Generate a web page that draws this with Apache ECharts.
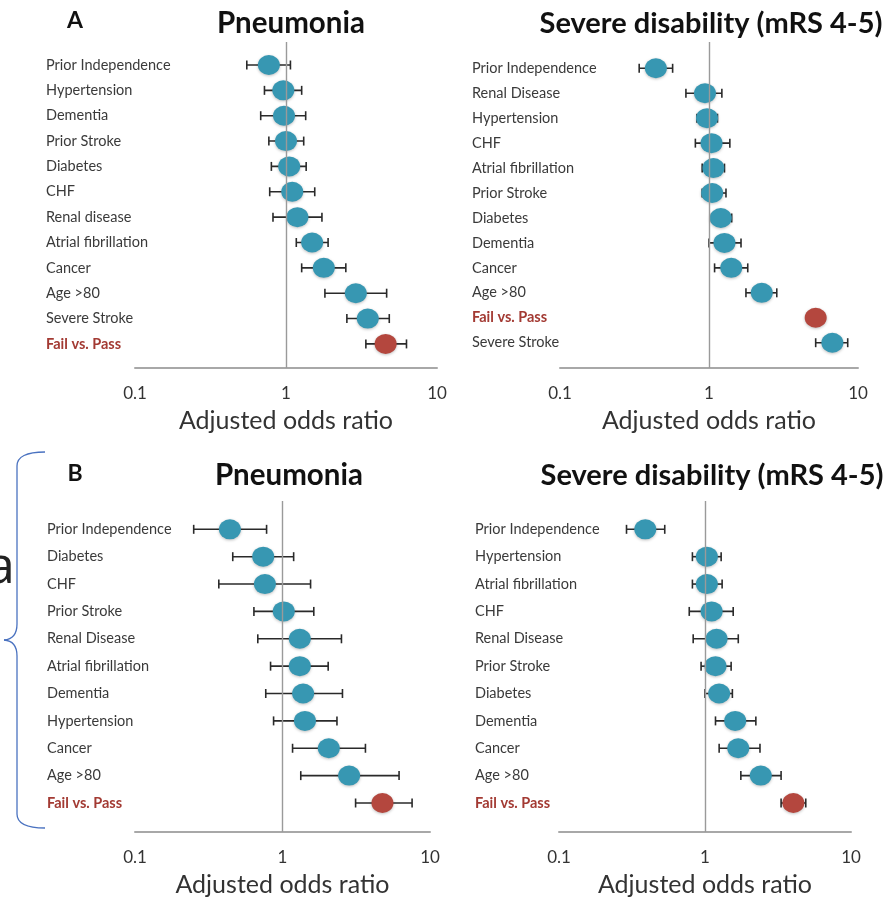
<!DOCTYPE html>
<html><head><meta charset="utf-8">
<script src="https://cdn.jsdelivr.net/npm/echarts@6/dist/echarts.min.js"></script>
<style>html,body{margin:0;padding:0;background:#fff}#c{width:890px;height:900px}</style>
</head><body><div id="c"></div>
<script>
// ---- Data ----
const pneuA_labels = ['Prior Independence','Hypertension','Dementia','Prior Stroke','Diabetes','CHF','Renal disease','Atrial fibrillation','Cancer','Age >80','Severe Stroke','Fail vs. Pass'];
const pneuA_or = [0.77,0.96,0.97,1.00,1.05,1.10,1.19,1.49,1.78,2.90,3.48,4.57];
const pneuA_lo = [0.55,0.72,0.68,0.77,0.80,0.78,0.82,1.17,1.27,1.81,2.53,3.38];
const pneuA_hi = [1.07,1.27,1.35,1.31,1.36,1.55,1.73,1.90,2.49,4.64,4.83,6.28];

const disA_labels = ['Prior Independence','Renal Disease','Hypertension','CHF','Atrial fibrillation','Prior Stroke','Diabetes','Dementia','Cancer','Age >80','Fail vs. Pass','Severe Stroke'];
const disA_or = [0.44,0.94,0.97,1.04,1.07,1.05,1.20,1.27,1.41,2.26,5.20,6.73];
const disA_lo = [0.34,0.70,0.83,0.81,0.90,0.90,1.04,1.00,1.09,1.77,4.80,5.20];
const disA_hi = [0.57,1.22,1.14,1.38,1.27,1.30,1.42,1.64,1.82,2.85,5.60,8.53];

const pneuB_labels = ['Prior Independence','Diabetes','CHF','Prior Stroke','Renal Disease','Atrial fibrillation','Dementia','Hypertension','Cancer','Age >80','Fail vs. Pass'];
const pneuB_or = [0.44,0.74,0.76,1.02,1.31,1.31,1.38,1.42,2.06,2.83,4.76];
const pneuB_lo = [0.25,0.46,0.37,0.64,0.68,0.83,0.77,0.87,1.17,1.33,3.13];
const pneuB_hi = [0.78,1.19,1.55,1.63,2.51,2.04,2.55,2.34,3.65,6.17,7.56];

const disB_labels = ['Prior Independence','Hypertension','Atrial fibrillation','CHF','Renal Disease','Prior Stroke','Diabetes','Dementia','Cancer','Age >80','Fail vs. Pass'];
const disB_or = [0.39,1.03,1.03,1.11,1.20,1.18,1.25,1.61,1.69,2.41,4.03];
const disB_lo = [0.29,0.82,0.82,0.78,0.83,0.94,1.00,1.18,1.25,1.76,3.32];
const disB_hi = [0.53,1.29,1.31,1.56,1.69,1.51,1.54,2.23,2.38,3.32,4.90];

const xTickLabels = ['0.1','1','10'];
const xAxisName = 'Adjusted odds ratio';
const titles = ['Pneumonia','Severe disability (mRS 4-5)','Pneumonia','Severe disability (mRS 4-5)'];
const panelLetters = ['A','B'];
const highlight = 'Fail vs. Pass';

// ---- Layout ----
const FONT = 'Lato, "Open Sans", sans-serif';
const TEAL = '#3797b2', RED = '#b4473e';
const panels = [
  {labels:pneuA_labels, or:pneuA_or, lo:pneuA_lo, hi:pneuA_hi, grid:{left:135,top:42,width:302,height:326}, ymin:-0.907, ymax:11.95, margin:89},
  {labels:disA_labels, or:disA_or, lo:disA_lo, hi:disA_hi, grid:{left:560,top:42,width:298,height:326}, ymin:-1.054, ymax:12.014, margin:88},
  {labels:pneuB_labels, or:pneuB_or, lo:pneuB_lo, hi:pneuB_hi, grid:{left:135,top:501,width:295,height:331}, ymin:-1.035, ymax:11.06, margin:88},
  {labels:disB_labels, or:disB_or, lo:disB_lo, hi:disB_hi, grid:{left:559,top:501,width:292,height:331}, ymin:-1.035, ymax:11.06, margin:84}
];

function renderErr(params, api){
  const row = api.value(2);
  const a = api.coord([api.value(0), row]);
  const b = api.coord([api.value(1), row]);
  const h = 4.5;
  const st = {stroke:'#2a2a2a', lineWidth:1.6};
  return {type:'group', children:[
    {type:'line', shape:{x1:a[0],y1:a[1],x2:b[0],y2:b[1]}, style:st},
    {type:'line', shape:{x1:a[0],y1:a[1]-h,x2:a[0],y2:a[1]+h}, style:st},
    {type:'line', shape:{x1:b[0],y1:b[1]-h,x2:b[0],y2:b[1]+h}, style:st}
  ]};
}

const grid=[], xAxis=[], yAxis=[], series=[];
panels.forEach((p,k)=>{
  grid.push(Object.assign({containLabel:false}, p.grid));
  xAxis.push({
    type:'log', logBase:10, min:0.1, max:10, gridIndex:k, position:'bottom',
    axisLine:{show:true, onZero:false, lineStyle:{color:'#a8a8a8', width:2}},
    axisTick:{show:false}, splitLine:{show:false},
    axisLabel:{fontSize:17, color:'#333', margin:17, fontFamily:FONT,
      formatter:(v)=>{const i=Math.round(Math.log10(v))+1; return xTickLabels[i]!==undefined?xTickLabels[i]:'';}},
    name:xAxisName, nameLocation:'middle', nameGap:40,
    nameTextStyle:{fontSize:25, color:'#333', fontFamily:FONT}
  });
  yAxis.push({
    type:'value', inverse:true, min:p.ymin, max:p.ymax, gridIndex:k,
    axisLine:{show:false}, axisTick:{show:false}, splitLine:{show:false},
    axisLabel:{
      customValues:p.labels.map((_,i)=>i),
      align:'left', margin:p.margin,
      formatter:(v)=>{const t=p.labels[Math.round(v)]||''; return t===highlight?'{r|'+t+'}':'{n|'+t+'}';},
      rich:{
        n:{fontSize:14.5, color:'#3a3a3a', fontFamily:FONT},
        r:{fontSize:14.5, color:'#a33a33', fontWeight:'bold', fontFamily:FONT}
      }
    }
  });
  series.push({
    type:'custom', xAxisIndex:k, yAxisIndex:k, renderItem:renderErr, z:2, silent:true,
    encode:{x:[0,1], y:2},
    data:p.labels.map((_,i)=>[p.lo[i], p.hi[i], i])
  });
  series.push({
    type:'scatter', xAxisIndex:k, yAxisIndex:k, z:3, symbol:'circle', symbolSize:[22,20],
    data:p.labels.map((t,i)=>({value:[p.or[i], i], itemStyle:{color: t===highlight?RED:TEAL}})),
    itemStyle:{opacity:1, shadowBlur:3, shadowColor:'rgba(0,0,0,0.25)', shadowOffsetY:1},
    markLine:{silent:true, symbol:'none', label:{show:false}, animation:false,
      lineStyle:{color:'#9a9a9a', width:1.4, type:'solid'}, data:[{xAxis:1}]}
  });
});

const BR = {stroke:'#4a72c0', lineWidth:1.3, fill:null};
const graphic = [
  {type:'text', x:75, y:21, style:{text:panelLetters[0], font:'bold 23px '+FONT, fill:'#111', textAlign:'center', textVerticalAlign:'middle'}},
  {type:'text', x:291, y:23, style:{text:titles[0], font:'bold 29.5px '+FONT, fill:'#111', textAlign:'center', textVerticalAlign:'middle'}},
  {type:'text', x:711, y:24, style:{text:titles[1], font:'bold 29px '+FONT, fill:'#111', textAlign:'center', textVerticalAlign:'middle'}},
  {type:'text', x:75, y:474, style:{text:panelLetters[1], font:'bold 23px '+FONT, fill:'#111', textAlign:'center', textVerticalAlign:'middle'}},
  {type:'text', x:289, y:475, style:{text:titles[2], font:'bold 29.5px '+FONT, fill:'#111', textAlign:'center', textVerticalAlign:'middle'}},
  {type:'text', x:712, y:476, style:{text:titles[3], font:'bold 29px '+FONT, fill:'#111', textAlign:'center', textVerticalAlign:'middle'}},
  {type:'bezierCurve', shape:{x1:45,y1:452,cpx1:17,cpy1:452,x2:17,y2:466}, style:BR},
  {type:'line', shape:{x1:17,y1:466,x2:17,y2:624}, style:BR},
  {type:'bezierCurve', shape:{x1:17,y1:624,cpx1:17,cpy1:639,x2:4,y2:640}, style:BR},
  {type:'bezierCurve', shape:{x1:4,y1:640,cpx1:17,cpy1:641,x2:17,y2:656}, style:BR},
  {type:'line', shape:{x1:17,y1:656,x2:17,y2:814}, style:BR},
  {type:'bezierCurve', shape:{x1:17,y1:814,cpx1:17,cpy1:828,x2:45,y2:828}, style:BR},
  {type:'text', x:15, y:568, style:{text:'a', font:'52px "Open Sans", sans-serif', fill:'#222', textAlign:'right', textVerticalAlign:'middle'}}
];

const chart = echarts.init(document.getElementById('c'));
chart.setOption({animation:false, backgroundColor:'#fff', grid, xAxis, yAxis, series, graphic});
</script></body></html>
